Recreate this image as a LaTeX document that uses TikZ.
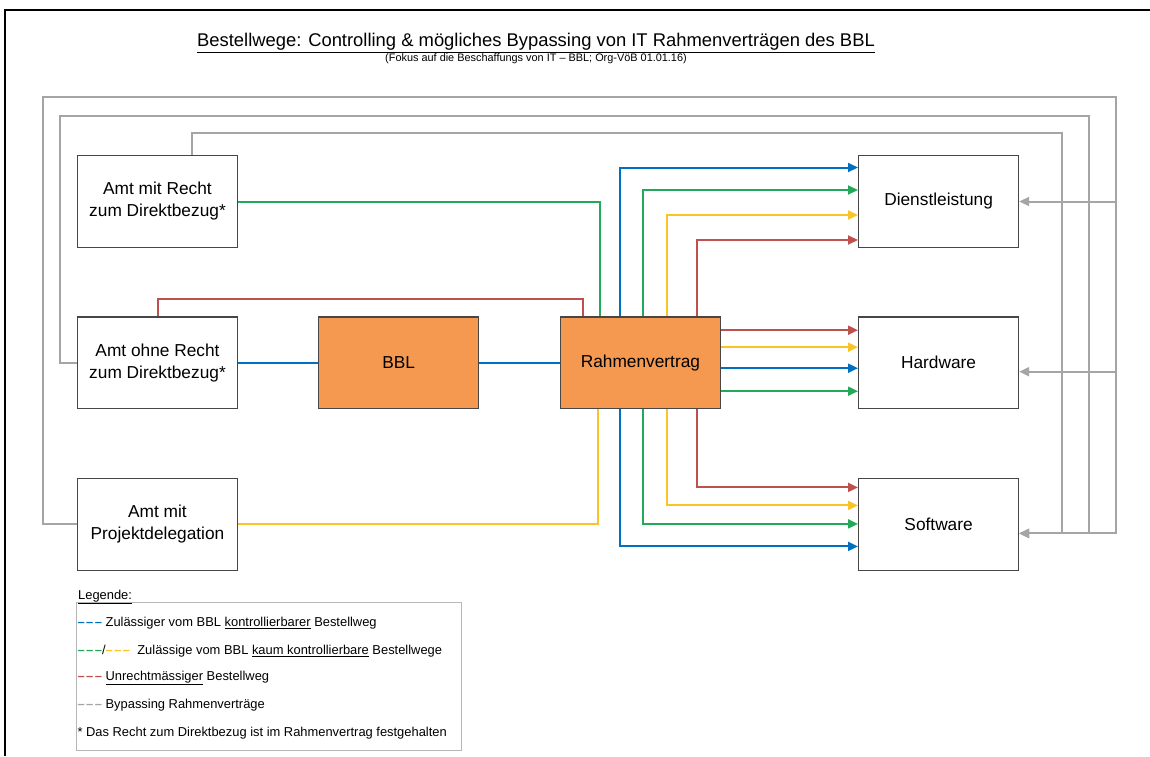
\documentclass[tikz,border=0pt]{standalone}
\usepackage{fontspec}
\setmainfont{Liberation Sans}
\usetikzlibrary{positioning, arrows.meta, calc}
\definecolor{bblblue}{RGB}{0,112,192}
\definecolor{bblgreen}{RGB}{34,170,90}
\definecolor{bblyel}{RGB}{250,196,40}
\definecolor{bblred}{RGB}{192,80,77}
\definecolor{bblgrey}{RGB}{165,165,165}
\definecolor{bblorange}{RGB}{245,152,80}
\definecolor{bblframe}{RGB}{70,70,70}
\newcommand{\boxfont}{\fontsize{17.3}{22}\selectfont}
\newcommand{\legfont}{\fontsize{12.9}{15}\selectfont}
\newcommand{\legdash}[1]{{\color{#1}\bfseries –\hspace{1.5pt}–\hspace{1.5pt}–}}

\begin{document}
\begin{tikzpicture}[
    x=1pt, y=-1pt,
    node distance = 68.5pt and 80pt,
    box/.style = {draw=bblframe, line width=1.2pt, fill=white,
                  minimum width=160pt, minimum height=91.5pt,
                  align=center, font=\boxfont, inner sep=2pt},
    core/.style = {box, fill=bblorange},
    wayline/.style = {line width=2pt},
    arr/.style = {-{Triangle[length=10pt,width=9pt]}},
  ]
    \useasboundingbox (0,0) rectangle (1150,756);
    % page frame
    \draw[line width=2pt] (5,756) -- (5,10) -- (1150,10);

    % heading
    \node[font=\fontsize{18.4}{21}\selectfont] (title) at (536,43)
      {\underline{Bestellwege: Controlling \& mögliches Bypassing von IT Rahmenverträgen des BBL}};
    \node[font=\fontsize{10.9}{12}\selectfont] (subtitle) at (536,59)
      {(Fokus auf die Beschaffungs von IT – BBL; Org-VöB 01.01.16)};

    % boxes
    \node[box] (mitRecht) at (157.5,201.5) {Amt mit Recht\\zum Direktbezug*};
    \node[box, below=68.5pt of mitRecht] (ohne) {Amt ohne Recht\\zum Direktbezug*};
    \node[box, below=69pt of ohne] (projekt) {Amt mit\\Projektdelegation};
    \node[core, right=80pt of ohne] (bbl) {BBL};
    \node[core, right=80.5pt of bbl] (rv) {Rahmenvertrag};
    \node[box, right=137pt of rv] (hw) {Hardware};
    \node[box, above=68.5pt of hw] (dienst) {Dienstleistung};
    \node[box, below=69pt of hw] (sw) {Software};

    % orders into the Rahmenvertrag
    \draw[wayline, bblgreen] (mitRecht.east) -| ([xshift=40pt]rv.north west);
    \draw[wayline, bblred] (ohne.north) -- ++(0,-17) -| ([xshift=23pt]rv.north west);
    \draw[wayline, bblblue] (ohne.east) -- (bbl.west);
    \draw[wayline, bblblue] (bbl.east) -- (rv.west);
    \draw[wayline, bblyel] (projekt.east) -| ([xshift=38pt]rv.south west);

    % Rahmenvertrag -> Dienstleistung
    \draw[wayline, arr, bblblue] ([xshift=60pt]rv.north west) |- ([yshift=34pt]dienst.west);
    \draw[wayline, arr, bblgreen] ([xshift=83pt]rv.north west) |- ([yshift=11.5pt]dienst.west);
    \draw[wayline, arr, bblyel] ([xshift=107pt]rv.north west) |- ([yshift=-13.5pt]dienst.west);
    \draw[wayline, arr, bblred] ([xshift=137pt]rv.north west) |- ([yshift=-38.5pt]dienst.west);

    % Rahmenvertrag -> Hardware
    \draw[wayline, arr, bblred] ([yshift=32.5pt]rv.east) -- ([yshift=32.5pt]hw.west);
    \draw[wayline, arr, bblyel] ([yshift=15.5pt]rv.east) -- ([yshift=15.5pt]hw.west);
    \draw[wayline, arr, bblblue] ([yshift=-5.5pt]rv.east) -- ([yshift=-5.5pt]hw.west);
    \draw[wayline, arr, bblgreen] ([yshift=-28.5pt]rv.east) -- ([yshift=-28.5pt]hw.west);

    % Rahmenvertrag -> Software
    \draw[wayline, arr, bblred] ([xshift=137pt]rv.south west) |- ([yshift=37pt]sw.west);
    \draw[wayline, arr, bblyel] ([xshift=107pt]rv.south west) |- ([yshift=19pt]sw.west);
    \draw[wayline, arr, bblgreen] ([xshift=83pt]rv.south west) |- ([yshift=0.5pt]sw.west);
    \draw[wayline, arr, bblblue] ([xshift=60pt]rv.south west) |- ([yshift=-22pt]sw.west);

    % bypassing
    \coordinate (busA) at (1061.7,133);
    \coordinate (busB) at (1089.3,116);
    \coordinate (busC) at (1116,96.7);
    \coordinate (turnB) at (60,116);
    \coordinate (turnC) at (42.7,96.7);
    \coordinate (hwIn) at ([yshift=-9pt]hw.east);
    \coordinate (swIn) at ([yshift=-9pt]sw.east);
    \draw[wayline, arr, bblgrey] ([xshift=34pt]mitRecht.north) |- (busA) |- (swIn);
    \draw[wayline, arr, bblgrey] (ohne.west) -| (turnB) -- (busB) |- (swIn);
    \draw[wayline, arr, bblgrey] (projekt.west) -| (turnC) -- (busC) |- (swIn);
    \draw[wayline, arr, bblgrey] (busC |- dienst.east) -- (dienst.east);
    \draw[wayline, arr, bblgrey] (busC |- hwIn) -- (hwIn);

    % legend
    \node[draw=bblgrey!80, line width=0.8pt, minimum width=385pt,
          minimum height=148pt, anchor=north west] (legend) at (76,602) {};
    \node[anchor=west, font=\legfont, inner sep=1pt] (legtitle) at (77,597) {\underline{Legende:}};
    \node[anchor=west, font=\legfont] (leg1) at (74,623)
      {\legdash{bblblue}\ Zulässiger vom BBL \underline{kontrollierbarer} Bestellweg};
    \node[anchor=west, font=\legfont] (leg2) at (74,651)
      {\legdash{bblgreen}/\legdash{bblyel}\ \ Zulässige vom BBL \underline{kaum kontrollierbare} Bestellwege};
    \node[anchor=west, font=\legfont] (leg3) at (74,678)
      {\legdash{bblred}\ \underline{Unrechtmässiger} Bestellweg};
    \node[anchor=west, font=\legfont] (leg4) at (74,705)
      {\legdash{bblgrey}\ Bypassing Rahmenverträge};
    \node[anchor=west, font=\legfont] (leg5) at (74,733)
      {* Das Recht zum Direktbezug ist im Rahmenvertrag festgehalten};
  \end{tikzpicture}
\end{document}
